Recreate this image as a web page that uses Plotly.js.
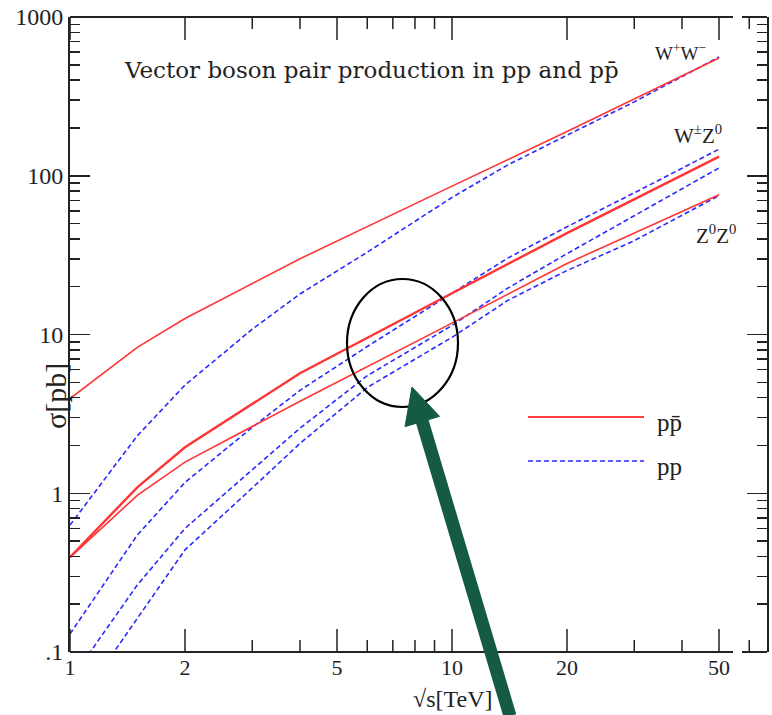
<!DOCTYPE html>
<html>
<head>
<meta charset="utf-8">
<script src="https://cdn.plot.ly/plotly-3.0.1.min.js"></script>
<style>html,body{margin:0;padding:0;background:#fff;}#chart{width:772px;height:715px;}</style>
</head>
<body>
<div id="chart"></div>
<script>
// ---- data ----
const sqrtS_ppbar = [1, 1.5, 2, 4, 10, 20, 50];
const WW_ppbar    = [3.95, 8.3, 12.6, 30, 86, 190, 552];
const WZ_ppbar    = [0.395, 1.09, 1.95, 5.7, 18.2, 43.5, 132];
const ZZ_ppbar    = [0.395, 0.97, 1.57, 3.8, 11.8, 28, 76];

const sqrtS_pp = [1, 1.5, 2, 3, 4, 6, 10, 14, 20, 30, 50];
const WW_pp    = [0.63, 2.3, 4.8, 10.8, 18, 33, 73, 117, 180, 292, 560];
const WpZ_pp   = [0.13, 0.545, 1.17, 2.6, 4.45, 8.4, 18.2, 30.3, 47.7, 78, 147];
const WmZ_pp   = [0.066, 0.264, 0.60, 1.40, 2.57, 5.5, 11.4, 19.6, 32.3, 56, 112];
const ZZ_pp    = [0.04, 0.164, 0.44, 1.08, 2.06, 4.64, 9.6, 16.4, 25.3, 39, 75];

const xTickVals = [1, 2, 5, 10, 20, 50];
const xTickText = ['1', '2', '5', '10', '20', '50'];
const xMinorVals = [3, 4, 6, 7, 8, 9, 30, 40, 60];
const yTickVals = [0.1, 1, 10, 100, 1000];
const yTickText = ['.1', '1', '10', '100', '1000'];
const yMinorVals = [];
[0.1, 1, 10, 100].forEach(d => { for (let k = 2; k <= 9; k++) yMinorVals.push(+(d * k).toPrecision(3)); });

// ---- geometry helpers (pixel -> paper) ----
const W = 772, H = 715, L = 70, R = 767, T = 17, B = 652;
const X_MAX_LOG = (R - L) / 382;   // 382 px per decade on x
const Y_MIN = 0.1, Y_MAX = 1000, Y_PX_PER_DECADE = (B - T) / 4;
const px = x => (x - L) / (R - L);
const py = y => (B - y) / (B - T);

const RED = '#ff3535', BLUE = '#2a2aff', AX = '#222';
const DASH = '5px,3px';

const traces = [
  {x: sqrtS_pp, y: WW_pp,  line: {color: BLUE, width: 1.6, dash: DASH}},
  {x: sqrtS_pp, y: WpZ_pp, line: {color: BLUE, width: 1.6, dash: DASH}},
  {x: sqrtS_pp, y: WmZ_pp, line: {color: BLUE, width: 1.6, dash: DASH}},
  {x: sqrtS_pp, y: ZZ_pp,  line: {color: BLUE, width: 1.6, dash: DASH}},
  {x: sqrtS_ppbar, y: WW_ppbar, line: {color: RED, width: 1.6}},
  {x: sqrtS_ppbar, y: WZ_ppbar, line: {color: RED, width: 2.4}},
  {x: sqrtS_ppbar, y: ZZ_ppbar, line: {color: RED, width: 1.6}}
].map(t => Object.assign({type: 'scatter', mode: 'lines', showlegend: false, hoverinfo: 'skip'}, t));

// x-axis tick marks (bottom pointing up, top pointing down), built from the tick value arrays
function tickTrace(vals, lenPx) {
  const f = Math.pow(10, lenPx / Y_PX_PER_DECADE);
  const xs = [], ys = [];
  vals.forEach(v => {
    xs.push(v, v, null, v, v, null);
    ys.push(Y_MIN, Y_MIN * f, null, Y_MAX / f, Y_MAX, null);
  });
  return {type: 'scatter', mode: 'lines', x: xs, y: ys, connectgaps: false, showlegend: false,
          hoverinfo: 'skip', line: {color: AX, width: 1.5}};
}
traces.push(tickTrace(xTickVals, 23), tickTrace(xMinorVals, 12));

function lineShape(x0, y0, x1, y1, color, width, dash) {
  return {type: 'line', xref: 'paper', yref: 'paper', x0: px(x0), y0: py(y0), x1: px(x1), y1: py(y1),
          line: {color: color, width: width, dash: dash || 'solid'}};
}

// arrow geometry
const tip = [412, 387], tail = [510, 716];
const dx = tip[0] - tail[0], dy = tip[1] - tail[1], len = Math.hypot(dx, dy);
const ux = dx / len, uy = dy / len, nx = -uy, ny = ux;
const headLen = 36, headHalf = 18;
const base = [tip[0] - ux * headLen, tip[1] - uy * headLen];
const c1 = [base[0] + nx * headHalf, base[1] + ny * headHalf];
const c2 = [base[0] - nx * headHalf, base[1] - ny * headHalf];
const GREEN = '#145a45';

const shapes = [
  // bottom and top frame lines (with the small gap at the right)
  lineShape(L, B, 733, B, AX, 2), lineShape(742, B, R, B, AX, 2),
  lineShape(L, T, 733, T, AX, 2), lineShape(742, T, R, T, AX, 2),
  // legend samples
  lineShape(528, 417, 644, 417, '#ff4040', 2.2),
  lineShape(528, 461, 644, 461, BLUE, 1.6, DASH),
  // ellipse
  {type: 'circle', xref: 'paper', yref: 'paper', x0: px(347), x1: px(458), y0: py(407), y1: py(279),
   line: {color: '#000', width: 2.2}},
  // arrow shaft and head
  lineShape(tail[0], tail[1], base[0] + ux * 2, base[1] + uy * 2, GREEN, 13),
  {type: 'path', xref: 'paper', yref: 'paper', fillcolor: GREEN, line: {color: GREEN, width: 1},
   path: `M ${px(tip[0])} ${py(tip[1])} L ${px(c1[0])} ${py(c1[1])} L ${px(c2[0])} ${py(c2[1])} Z`}
];

function ann(text, x, y, font, xanchor) {
  return {text: text, xref: 'paper', yref: 'paper', x: px(x), y: py(y), showarrow: false,
          xanchor: xanchor || 'center', yanchor: 'middle', font: font};
}
const serifD = (s) => ({family: 'DejaVu Serif', size: s, color: '#222'});
const serifL = (s) => ({family: 'Liberation Serif', size: s, color: '#222'});

const annotations = [
  ann('Vector boson pair production in pp and pp\u0304', 122, 70, serifD(23), 'left'),
  ann('W<sup>+</sup>W<sup>\u2212</sup>', 680, 52, serifL(19)),
  ann('W<sup>\u00b1</sup>Z<sup>0</sup>', 698, 134, serifL(21)),
  ann('Z<sup>0</sup>Z<sup>0</sup>', 716, 235, serifL(21)),
  ann('pp\u0304', 655, 422, serifL(25), 'left'),
  ann('pp', 655, 466, serifL(25), 'left'),
  ann('\u221As[TeV]', 452, 699, serifL(24)),
  Object.assign(ann('\u03c3[pb]', 55, 396, serifL(30)), {textangle: -90})
];

const layout = {
  width: W, height: H,
  margin: {l: L, r: W - R, t: T, b: H - B, pad: 0},
  paper_bgcolor: '#fff', plot_bgcolor: '#fff',
  xaxis: {
    type: 'log', range: [0, X_MAX_LOG],
    tickvals: xTickVals, ticktext: xTickText,
    tickfont: {family: 'Liberation Serif', size: 22, color: '#222'},
    ticks: '', showline: false, showgrid: false, zeroline: false
  },
  yaxis: {
    type: 'log', range: [Math.log10(Y_MIN), Math.log10(Y_MAX)],
    tickvals: yTickVals, ticktext: yTickText,
    tickfont: {family: 'Liberation Serif', size: 24, color: '#222'},
    ticks: 'inside', ticklen: 20, tickwidth: 1.5, tickcolor: AX,
    minor: {tickvals: yMinorVals, ticks: 'inside', ticklen: 10, tickwidth: 1.5, tickcolor: AX, showgrid: false},
    showline: true, linewidth: 2, linecolor: AX, mirror: 'ticks',
    showgrid: false, zeroline: false
  },
  shapes: shapes,
  annotations: annotations
};

Plotly.newPlot('chart', traces, layout, {displayModeBar: false, staticPlot: true});
</script>
</body>
</html>
